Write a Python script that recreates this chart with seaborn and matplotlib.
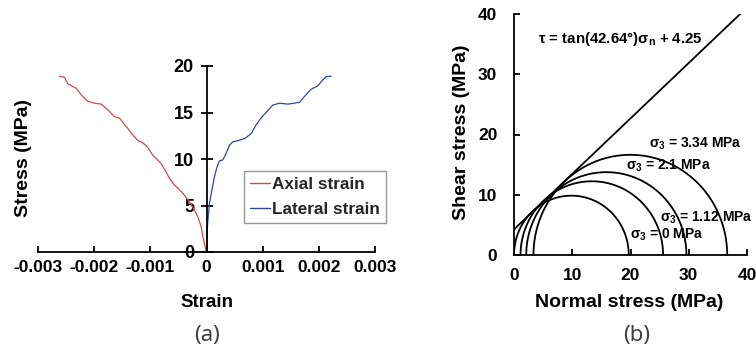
import numpy as np
import pandas as pd
import matplotlib
matplotlib.use("Agg")
import matplotlib.pyplot as plt
import seaborn as sns

# ---------------- data ----------------
axial_strain = [0.0, -0.000023, -0.000065, -0.000095, -0.000155, -0.000214, -0.000303, -0.000392,
                -0.000481, -0.00057, -0.000659, -0.000718, -0.000807, -0.000867, -0.000956,
                -0.001045, -0.001134, -0.001223, -0.001312, -0.00143, -0.00155, -0.00164,
                -0.001757, -0.001875, -0.001994, -0.002113, -0.00223, -0.00232, -0.00247,
                -0.00253, -0.00262]
axial_stress = [0.0, 0.5, 1.65, 2.72, 3.8, 4.5, 5.4, 6.1, 6.7, 7.2, 7.9, 8.6, 9.5, 9.9, 10.4,
                11.25, 11.75, 12.0, 12.6, 13.5, 14.4, 14.55, 15.3, 15.9, 16.0, 16.2, 16.9,
                17.6, 18.1, 18.8, 18.9]
lateral_strain = [0.0, 0.000012, 0.000036, 0.000053, 0.000095, 0.000142, 0.00019, 0.000231,
                  0.00029, 0.00035, 0.00041, 0.00047, 0.00056, 0.00068, 0.0008, 0.00088,
                  0.00097, 0.00106, 0.00118, 0.0013, 0.00145, 0.00166, 0.00174, 0.00186,
                  0.00198, 0.00207, 0.00213, 0.00222]
lateral_stress = [0.0, 2.37, 4.15, 5.2, 6.65, 8.1, 9.2, 9.8, 9.9, 10.6, 11.5, 11.85, 11.97,
                  12.2, 12.76, 13.65, 14.4, 15.0, 15.8, 16.0, 15.9, 16.1, 16.7, 17.5, 17.85,
                  18.5, 18.85, 18.9]
series_names = ["Axial strain", "Lateral strain"]

sigma3 = [0.0, 1.12, 2.1, 3.34]
sigma1 = [19.7, 25.6, 29.6, 36.6]
circle_labels = ["σ$_3$ = 0 MPa", "σ$_3$ = 1.12 MPa", "σ$_3$ = 2.1 MPa", "σ$_3$ = 3.34 MPa"]
friction_angle = 42.64
cohesion = 4.25

xticks_a = [-0.003, -0.002, -0.001, 0, 0.001, 0.002, 0.003]
xtick_labels_a = ["-0.003", "-0.002", "-0.001", "0", "0.001", "0.002", "0.003"]
yticks_a = [0, 5, 10, 15, 20]
ticks_b = [0, 10, 20, 30, 40]

# ---------------- style ----------------
sns.set_theme(style="white")
plt.rcParams["font.family"] = ["Liberation Sans", "DejaVu Sans"]
plt.rcParams["font.weight"] = "bold"
plt.rcParams["mathtext.fontset"] = "custom"
plt.rcParams["mathtext.rm"] = "Liberation Sans:bold"
plt.rcParams["mathtext.it"] = "Liberation Sans:bold"
plt.rcParams["mathtext.bf"] = "Liberation Sans:bold"
plt.rcParams["axes.linewidth"] = 1.3

fig = plt.figure(figsize=(7.56, 3.52), dpi=100)
ax1 = fig.add_axes([38 / 756, 1 - 252 / 352, 337 / 756, 186 / 352])
ax2 = fig.add_axes([514 / 756, 1 - 255 / 352, 233 / 756, 241 / 352])
for ax in (ax1, ax2):
    ax.set_facecolor("none")

# ---------------- panel (a) ----------------
df_a = pd.concat([
    pd.DataFrame({"strain": axial_strain, "stress": axial_stress, "series": series_names[0]}),
    pd.DataFrame({"strain": lateral_strain, "stress": lateral_stress, "series": series_names[1]}),
])
sns.lineplot(data=df_a, x="strain", y="stress", hue="series", sort=False, estimator=None,
             palette=["#d04a4a", "#33479b"], linewidth=0.9, ax=ax1)
ax1.set_xlim(-0.003, 0.003)
ax1.set_ylim(0, 20)
for s in ("top", "right"):
    ax1.spines[s].set_visible(False)
ax1.spines["left"].set_position(("data", 0))
ax1.spines["bottom"].set_position(("data", 0))
for s in ("left", "bottom"):
    ax1.spines[s].set_color("black")
ax1.set_xticks(xticks_a)
ax1.set_xticklabels(xtick_labels_a)
ax1.set_yticks(yticks_a)
ax1.tick_params(axis="x", direction="in", length=4, width=1.3, pad=6, labelsize=12.5, colors="black",
                bottom=True)
ax1.tick_params(axis="y", direction="inout", length=8, width=1.3, pad=5, labelsize=13, colors="black",
                left=True)
for lab in ax1.get_xticklabels() + ax1.get_yticklabels():
    lab.set_fontweight("bold")
ax1.set_xlabel("Strain", fontsize=13.5, fontweight="bold", color="black")
ax1.set_ylabel("Stress (MPa)", fontsize=14, fontweight="bold", color="black")
ax1.xaxis.set_label_coords(0.5, -0.228)
ax1.yaxis.set_label_coords(-0.018, 0.505)
leg = ax1.legend(loc="upper left", bbox_to_anchor=(0.611, 0.435), borderaxespad=0,
                 frameon=True, fancybox=False, edgecolor="#7f7f7f", handlelength=1.2,
                 handletextpad=0.1, labelspacing=0.6, borderpad=0.35,
                 prop={"weight": "bold", "size": 12.3})
leg.get_frame().set_linewidth(1.0)
leg.get_frame().set_facecolor("white")
for line in leg.get_lines():
    line.set_linewidth(1.0)

# ---------------- panel (b) ----------------
theta = np.linspace(0, np.pi, 200)
rows = []
for s3, s1, lab in zip(sigma3, sigma1, circle_labels):
    c = (s1 + s3) / 2
    r = (s1 - s3) / 2
    rows.append(pd.DataFrame({"sn": c + r * np.cos(theta), "tau": r * np.sin(theta), "circle": lab}))
df_b = pd.concat(rows)
sns.lineplot(data=df_b, x="sn", y="tau", units="circle", estimator=None, sort=False,
             color="black", linewidth=1.3, ax=ax2)
sn_line = np.array([0.0, 40.0])
df_env = pd.DataFrame({"sn": sn_line, "tau": np.tan(np.radians(friction_angle)) * sn_line + cohesion})
sns.lineplot(data=df_env, x="sn", y="tau", color="black", linewidth=1.3, ax=ax2)
ax2.set_xlim(0, 40)
ax2.set_ylim(0, 40)
for s in ("top", "right"):
    ax2.spines[s].set_visible(False)
for s in ("left", "bottom"):
    ax2.spines[s].set_color("black")
ax2.set_xticks(ticks_b)
ax2.set_yticks(ticks_b)
ax2.tick_params(axis="x", direction="in", length=4, width=1.3, pad=9, labelsize=12.5, colors="black",
                bottom=True)
ax2.tick_params(axis="y", direction="in", length=4, width=1.3, pad=12, labelsize=12.5, colors="black",
                left=True)
for lab in ax2.get_xticklabels() + ax2.get_yticklabels():
    lab.set_fontweight("bold")
ax2.set_xlabel("Normal stress (MPa)", fontsize=14, fontweight="bold", color="black")
ax2.set_ylabel("Shear stress (MPa)", fontsize=14, fontweight="bold", color="black")
ax2.xaxis.set_label_coords(0.494, -0.163)
ax2.yaxis.set_label_coords(-0.189, 0.51)

ax2.text(4.1, 35.8, r"τ = tan(42.64°)$\sigma_n$ + 4.25", fontsize=10.8, fontweight="bold",
         ha="left", va="center", color="black")
label_pos = [(19.9, 3.3), (25.1, 6.1), (19.2, 14.8), (23.1, 18.5)]
for (x, y), lab in zip(label_pos, circle_labels):
    ax2.text(x, y, lab, fontsize=10, fontweight="bold", ha="left", va="center", color="black")

# panel letters
fig.text(207 / 756, 1 - 335 / 352, "(a)", fontsize=16, fontweight="light",
         family=["Noto Sans", "DejaVu Sans"], color="#404040", ha="center", va="center")
fig.text(637 / 756, 1 - 335 / 352, "(b)", fontsize=16, fontweight="light",
         family=["Noto Sans", "DejaVu Sans"], color="#404040", ha="center", va="center")

fig.savefig("out.png", dpi=100)
